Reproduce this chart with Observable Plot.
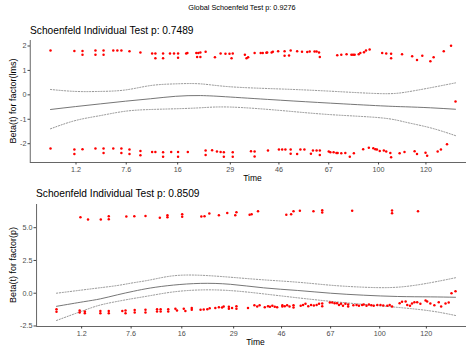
<!DOCTYPE html>
<html><head><meta charset="utf-8">
<script src="https://cdn.jsdelivr.net/npm/d3@7"></script>
<script src="https://cdn.jsdelivr.net/npm/@observablehq/plot@0.6"></script>
<style>
html,body{margin:0;padding:0;background:#fff;overflow:hidden}
#chart{position:relative;width:466px;height:350px;font-family:"Liberation Sans",Arial,sans-serif;background:#fff}
.t{position:absolute;white-space:nowrap;line-height:1;color:#000}
</style></head><body>
<div id="chart"></div>
<script>
// ---- data (x is the Kaplan-Meier transformed time, 0 = first event, 1 = last event) ----
const globalTitle = "Global Schoenfeld Test p: 0.9276";
const panelTitles = ["Schoenfeld Individual Test p: 0.7489", "Schoenfeld Individual Test p: 0.8509"];
const yLabels = ["Beta(t) for factor(lms)", "Beta(t) for factor(p)"];
const xLabel = "Time";

const timeTickPos = [0.063, 0.187, 0.314, 0.444, 0.564, 0.687, 0.81, 0.927];
const timeTickLabels = ["1.2", "7.6", "16", "29", "46", "67", "100", "120"];

// panel 1: factor(lms) residuals
const lmsHighT = [0,0.059,0.079,0.079,0.111,0.111,0.131,0.131,0.155,0.165,0.175,0.195,0.222,0.251,0.259,0.259,0.278,0.278,0.295,0.305,0.315,0.315,0.335,0.338,0.360,0.365,0.370,0.370,0.362,0.383,0.406,0.420,0.432,0.442,0.450,0.447,0.480,0.484,0.488,0.504,0.519,0.524,0.533,0.535,0.546,0.549,0.562,0.578,0.578,0.589,0.593,0.609,0.621,0.634,0.640,0.652,0.657,0.663,0.665,0.708,0.718,0.731,0.743,0.747,0.751,0.761,0.765,0.774,0.779,0.788,0.819,0.829,0.841,0.841,0.868,0.893,0.905,0.918,0.938,0.946,0.971,0.989];
const lmsHighR = [1.82,1.80,1.80,1.64,1.82,1.64,1.82,1.64,1.82,1.82,1.82,1.78,1.73,1.69,1.69,1.50,1.69,1.50,1.69,1.69,1.69,1.52,1.69,1.71,1.71,1.71,1.73,1.55,1.55,1.76,1.54,1.69,1.68,1.68,1.69,1.50,1.64,1.50,1.54,1.71,1.71,1.71,1.72,1.73,1.73,1.76,1.78,1.78,1.60,1.61,1.82,1.78,1.76,1.75,1.77,1.77,1.77,1.73,1.55,1.62,1.64,1.66,1.64,1.64,1.64,1.66,1.71,1.74,1.82,1.86,1.71,1.69,1.68,1.50,1.66,1.58,1.43,1.60,1.38,1.54,1.78,2.01];
const lmsLowT = [0,0.059,0.059,0.079,0.111,0.131,0.131,0.155,0.175,0.175,0.195,0.195,0.222,0.222,0.251,0.259,0.278,0.278,0.298,0.315,0.315,0.339,0.383,0.383,0.399,0.411,0.420,0.428,0.428,0.450,0.450,0.495,0.504,0.504,0.537,0.564,0.572,0.580,0.593,0.593,0.609,0.617,0.627,0.643,0.648,0.657,0.665,0.665,0.687,0.691,0.699,0.706,0.709,0.718,0.728,0.739,0.749,0.772,0.786,0.797,0.802,0.806,0.813,0.823,0.829,0.839,0.841,0.862,0.874,0.899,0.905,0.926,0.930,0.956,0.964,0.979,1.0];
const lmsLowR = [-2.20,-2.24,-2.42,-2.23,-2.20,-2.20,-2.38,-2.20,-2.20,-2.38,-2.24,-2.42,-2.30,-2.47,-2.34,-2.34,-2.35,-2.53,-2.34,-2.34,-2.53,-2.34,-2.28,-2.46,-2.27,-2.32,-2.34,-2.35,-2.53,-2.35,-2.53,-2.31,-2.32,-2.52,-2.28,-2.24,-2.24,-2.24,-2.24,-2.41,-2.42,-2.24,-2.24,-2.41,-2.28,-2.28,-2.28,-2.46,-2.32,-2.35,-2.35,-2.38,-2.38,-2.39,-2.38,-2.53,-2.39,-2.23,-2.17,-2.19,-2.23,-2.24,-2.30,-2.28,-2.32,-2.38,-2.56,-2.39,-2.34,-2.31,-2.42,-2.37,-2.49,-2.32,-2.24,-2.02,-0.27];
const lmsCurveT = [0,0.062,0.123,0.185,0.247,0.309,0.370,0.444,0.568,0.691,0.815,0.877,0.938,1.0];
const lmsFit = [-0.60,-0.48,-0.37,-0.26,-0.16,-0.06,-0.03,-0.09,-0.22,-0.34,-0.45,-0.49,-0.53,-0.59];
const lmsHi  = [0.22,0.14,0.14,0.20,0.38,0.45,0.45,0.33,0.24,0.15,0.05,0.11,0.29,0.49];
const lmsLo  = [-1.39,-1.05,-0.85,-0.67,-0.60,-0.57,-0.53,-0.50,-0.64,-0.81,-0.94,-1.12,-1.35,-1.67];

// panel 2: factor(p) residuals
const pHighT = [0.060,0.079,0.111,0.131,0.131,0.175,0.195,0.223,0.259,0.278,0.278,0.315,0.315,0.363,0.371,0.383,0.407,0.428,0.448,0.451,0.484,0.489,0.505,0.576,0.588,0.594,0.610,0.644,0.666,0.666,0.741,0.841,0.841,0.906];
const pHighR = [5.80,5.63,5.63,5.88,5.65,5.86,5.88,5.90,5.75,5.95,5.80,6.03,5.83,5.86,5.88,6.08,5.95,6.13,5.95,6.18,5.98,6.03,6.26,5.98,6.03,6.26,6.29,6.26,6.34,6.16,6.29,6.31,6.11,6.26];
const pLowT = [0,0,0.058,0.058,0.071,0.071,0.110,0.110,0.131,0.131,0.165,0.173,0.173,0.196,0.196,0.223,0.223,0.252,0.252,0.261,0.261,0.280,0.280,0.298,0.302,0.319,0.323,0.339,0.339,0.361,0.369,0.378,0.384,0.398,0.407,0.415,0.419,0.432,0.432,0.440,0.451,0.451,0.480,0.496,0.503,0.509,0.522,0.530,0.535,0.541,0.547,0.553,0.566,0.566,0.572,0.578,0.584,0.594,0.594,0.612,0.618,0.624,0.631,0.638,0.645,0.652,0.658,0.666,0.666,0.685,0.691,0.697,0.703,0.708,0.713,0.718,0.724,0.731,0.731,0.744,0.752,0.758,0.766,0.770,0.777,0.783,0.789,0.795,0.804,0.812,0.819,0.829,0.835,0.841,0.860,0.866,0.875,0.879,0.886,0.891,0.897,0.904,0.912,0.925,0.929,0.937,0.947,0.958,0.964,0.975,0.983,0.990,1.0];
const pLowR = [-1.22,-1.42,-1.32,-1.47,-1.40,-1.52,-1.35,-1.52,-1.35,-1.52,-1.35,-1.32,-1.52,-1.29,-1.47,-1.27,-1.47,-1.22,-1.40,-1.22,-1.40,-1.22,-1.40,-1.19,-1.32,-1.19,-1.35,-1.12,-1.27,-1.27,-1.24,-1.22,-1.14,-1.12,-1.07,-1.09,-1.02,-1.04,-1.19,-1.12,-0.99,-1.19,-1.12,-0.91,-1.02,-0.91,-1.07,-0.99,-1.04,-0.96,-1.04,-1.07,-1.02,-0.91,-0.99,-0.91,-1.02,-0.91,-1.09,-0.96,-0.89,-0.81,-0.99,-0.89,-0.94,-0.89,-0.81,-0.79,-0.99,-0.71,-0.71,-0.76,-0.76,-0.89,-0.81,-0.96,-0.81,-0.86,-1.02,-0.91,-0.89,-0.96,-0.89,-0.86,-0.96,-0.86,-0.91,-0.96,-0.89,-0.89,-0.94,-0.96,-0.89,-1.02,-0.76,-0.66,-0.63,-0.89,-0.96,-0.79,-0.68,-0.68,-0.81,-0.56,-0.63,-0.79,-0.91,-0.68,-1.02,-0.79,-0.71,0.0,0.15];
const pCurveT = [0,0.068,0.110,0.153,0.193,0.236,0.293,0.361,0.436,0.519,0.604,0.687,0.769,0.855,0.937,1.0];
const pFit = [-1.00,-0.65,-0.43,-0.12,0.15,0.40,0.62,0.75,0.68,0.41,0.21,0.00,-0.15,-0.25,-0.28,-0.31];
const pHi  = [0.00,0.26,0.42,0.59,0.80,1.02,1.33,1.37,1.22,1.02,0.84,0.61,0.46,0.46,0.80,1.18];
const pLo  = [-2.08,-1.32,-0.90,-0.62,-0.40,-0.18,0.10,0.25,0.20,-0.05,-0.35,-0.62,-0.85,-1.08,-1.35,-1.70];

// ---- build tables ----
const zipPts = (ts, rs) => ts.map((t, i) => ({t, r: rs[i]}));
const zipCurve = (ts, f, lo, hi) => ts.map((t, i) => ({t, fit: f[i], lo: lo[i], hi: hi[i]}));
const tickLabelMap = new Map(timeTickPos.map((p, i) => [p, timeTickLabels[i]]));
const xDomain = [-0.05, 1.05];
const FONT = "Liberation Sans, Arial, sans-serif";

function panel(o) {
  const pts = zipPts(o.highT, o.highR).concat(zipPts(o.lowT, o.lowR));
  const curve = zipCurve(o.curveT, o.fit, o.lo, o.hi);
  return Plot.plot({
    width: 466, height: o.h,
    marginLeft: o.ml, marginTop: o.mt, marginBottom: o.mb, marginRight: 0,
    x: {domain: xDomain, range: o.xRange},
    y: {domain: o.yDomain, range: o.yRange},
    style: {fontFamily: FONT, background: "transparent"},
    marks: [
      Plot.line(curve, {x: "t", y: "hi", curve: "natural", stroke: "#7a7a7a", strokeWidth: 0.8, strokeDasharray: "1.2,1.6"}),
      Plot.line(curve, {x: "t", y: "lo", curve: "natural", stroke: "#7a7a7a", strokeWidth: 0.8, strokeDasharray: "1.2,1.6"}),
      Plot.line(curve, {x: "t", y: "fit", curve: "natural", stroke: "#666", strokeWidth: 0.9}),
      Plot.dot(pts, {x: "t", y: "r", r: 1.25, fill: "#ff0000"}),
      Plot.ruleX([xDomain[0]], {y1: o.yDomain[0], y2: o.yDomain[1], stroke: "#555", strokeWidth: 0.9}),
      Plot.ruleY([o.yDomain[0]], {x1: xDomain[0], x2: xDomain[1], stroke: "#555", strokeWidth: 0.9}),
      Plot.axisX(timeTickPos, {tickFormat: d => tickLabelMap.get(d), tickSize: 2.5, tickPadding: 1.5, fontSize: 7.2, fill: "#4d4d4d", stroke: "#444", label: null}),
      Plot.axisY(o.yTicks, {tickFormat: o.yFmt, tickSize: 2.5, tickPadding: 1.5, fontSize: 7.2, fill: "#4d4d4d", stroke: "#444", label: null})
    ]
  });
}

const chart = document.getElementById("chart");
function place(el, top) {
  el.style.position = "absolute"; el.style.left = "0px"; el.style.top = top + "px";
  chart.appendChild(el);
}
function text(str, css) {
  const d = document.createElement("div");
  d.className = "t"; d.textContent = str;
  Object.assign(d.style, css);
  chart.appendChild(d);
  return d;
}

const p1 = panel({
  highT: lmsHighT, highR: lmsHighR, lowT: lmsLowT, lowR: lmsLowR,
  curveT: lmsCurveT, fit: lmsFit, lo: lmsLo, hi: lmsHi,
  h: 185, ml: 30, mt: 40, mb: 23,
  xRange: [29.75, 475.25], yDomain: [-2.77, 2.225], yRange: [162, 40],
  yTicks: [-2, -1, 0, 1, 2], yFmt: d => String(d)
});
place(p1, 0);

const p2 = panel({
  highT: pHighT, highR: pHighR, lowT: pLowT, lowR: pLowR,
  curveT: pCurveT, fit: pFit, lo: pLo, hi: pHi,
  h: 165, ml: 36, mt: 19, mb: 24,
  xRange: [36.05, 474.95], yDomain: [-2.54, 6.77], yRange: [141, 19],
  yTicks: [-2.5, 0, 2.5, 5], yFmt: d => d.toFixed(1)
});
place(p2, 185);

// titles and axis titles
text(globalTitle, {fontSize: "7.3px", left: "242px", top: "3.8px", transform: "translateX(-50%)", color: "#000"});
text(panelTitles[0], {fontSize: "10.2px", left: "30px", top: "25.6px"});
text(panelTitles[1], {fontSize: "10.2px", left: "36px", top: "189.3px"});
text(xLabel, {fontSize: "8.5px", left: "252.5px", top: "173.9px", transform: "translateX(-50%)"});
text(xLabel, {fontSize: "8.5px", left: "255.5px", top: "338.3px", transform: "translateX(-50%)"});
text(yLabels[0], {fontSize: "9px", left: "13.3px", top: "101px", transform: "translate(-50%,-50%) rotate(-90deg)"});
text(yLabels[1], {fontSize: "9px", left: "13.3px", top: "265px", transform: "translate(-50%,-50%) rotate(-90deg)"});
</script>
</body></html>
